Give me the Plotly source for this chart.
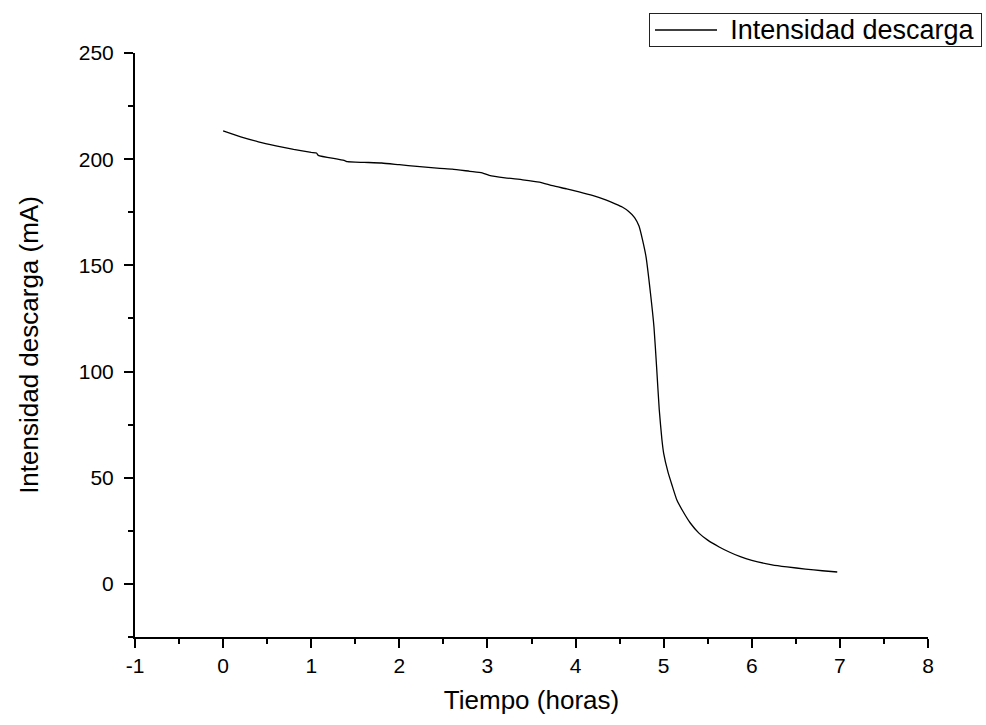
import plotly.graph_objects as go

FONT_FAMILY = "Liberation Sans, Arial, sans-serif"
INK = "black"

# tiempo (horas) y corriente de descarga (mA)
tiempo_h = [
    0.00, 0.20, 0.40, 0.60, 0.80, 1.00, 1.06, 1.08, 1.30, 1.38, 1.41, 1.60,
    1.80, 2.00, 2.20, 2.46, 2.60, 2.80, 2.94, 3.02, 3.20, 3.40, 3.59, 3.74,
    3.90, 4.04, 4.20, 4.35, 4.45, 4.53, 4.60, 4.67, 4.72, 4.76, 4.80, 4.85,
    4.89, 4.92, 4.95, 4.98, 5.00, 5.05, 5.10, 5.15, 5.21, 5.30, 5.40, 5.50,
    5.63, 5.75, 5.87, 6.00, 6.23, 6.40, 6.61, 6.80, 6.97,
]
intensidad_ma = [
    213.3, 210.5, 208.2, 206.3, 204.6, 203.2, 202.9, 201.8, 200.0, 199.3, 198.8, 198.5,
    198.2, 197.4, 196.6, 195.7, 195.3, 194.3, 193.6, 192.4, 191.2, 190.3, 189.2, 187.5,
    186.0, 184.6, 182.8, 180.7, 179.0, 177.5, 175.5, 172.5, 168.5, 162.0, 154.0, 137.0,
    121.0, 102.0, 82.0, 68.0, 61.5, 52.5, 45.8, 39.5, 34.8, 28.8, 23.9, 20.6,
    17.4, 14.9, 12.8, 11.1, 9.0, 8.0, 7.0, 6.2, 5.6,
]

x_ticks = [-1, 0, 1, 2, 3, 4, 5, 6, 7, 8]
y_ticks = [0, 50, 100, 150, 200, 250]
legend_label = "Intensidad descarga"

fig = go.Figure(
    go.Scatter(
        x=tiempo_h,
        y=intensidad_ma,
        mode="lines",
        name=legend_label,
        showlegend=False,
        line=dict(color=INK, width=1.3, shape="spline", smoothing=0.5),
    )
)


def _axis(title, rng, ticks, minor_dtick, standoff, label_gap):
    return dict(
        title=dict(text=title, font=dict(size=26, color=INK), standoff=standoff),
        automargin=False,
        range=rng,
        tickmode="array",
        tickvals=ticks,
        ticktext=[str(t) for t in ticks],  # guion simple, como el original
        ticklabelstandoff=label_gap,
        showgrid=False,
        zeroline=False,
        showline=True,
        linecolor=INK,
        linewidth=2,
        ticks="outside",
        ticklen=9,
        tickwidth=2,
        tickcolor=INK,
        tickfont=dict(size=21, color=INK),
        minor=dict(ticks="outside", ticklen=5, tickwidth=2, tickcolor=INK, dtick=minor_dtick, showgrid=False),
    )


fig.update_layout(
    width=986,
    height=725,
    paper_bgcolor="white",
    plot_bgcolor="white",
    font=dict(family=FONT_FAMILY, color=INK),
    margin=dict(l=135, r=58, t=53, b=88),
    xaxis=_axis("Tiempo (horas)", [-1, 8], x_ticks, 0.5, 15, 0),
    yaxis=_axis("Intensidad descarga (mA)", [-25, 250], y_ticks, 25, 33, 6),
    showlegend=False,
)

# recuadro de leyenda al estilo Origin: texto con borde + muestra de línea
fig.add_annotation(
    xref="paper", yref="paper",
    x=(982 - 135) / 793, y=(637 - 13) / 584,
    xanchor="right", yanchor="top",
    text=legend_label + " ",
    showarrow=False,
    align="right",
    width=331,
    height=32,
    font=dict(size=27, color=INK),
    bordercolor="#222",
    borderwidth=1,
    borderpad=0,
    bgcolor="rgba(0,0,0,0)",
)
fig.add_shape(
    type="line", xref="paper", yref="paper",
    x0=(655 - 135) / 793, x1=(717 - 135) / 793,
    y0=(637 - 30) / 584, y1=(637 - 30) / 584,
    line=dict(color=INK, width=1.3),
)

fig.write_html(
    "out.html",
    config={"displayModeBar": False},
    post_script="document.body.style.margin='0px';",
)
